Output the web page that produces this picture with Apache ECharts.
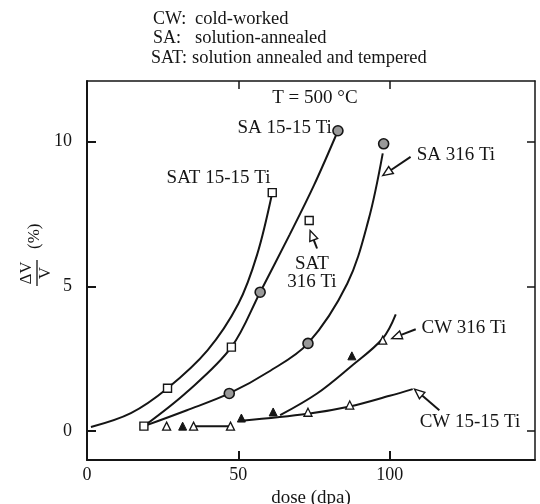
<!DOCTYPE html>
<html>
<head>
<meta charset="utf-8">
<script src="https://cdn.jsdelivr.net/npm/echarts@6/dist/echarts.min.js"></script>
<style>
html,body{margin:0;padding:0;background:#fff;}
#c{width:540px;height:504px;}
</style>
</head>
<body>
<div id="c"></div>
<script>
// ---- data (dose in dpa, swelling dV/V in %) ----
const sat1515Curve = [[1.3,0.14],[14.5,0.62],[26.6,1.48],[39.8,2.79],[50,4.4],[56.2,6.1],[61.2,8.24]];
const sa1515Curve  = [[18.8,0.17],[33,1.35],[47.7,2.9],[57.2,4.8],[67,6.8],[75,8.5],[82.9,10.38]];
const sa316Curve   = [[18.8,0.17],[33,0.72],[47,1.3],[60,2.05],[73,3.03],[86,5.1],[93,7.3],[97.7,9.6]];
const cw316Curve   = [[63.8,0.55],[76,1.3],[86.8,2.2],[97.7,3.2],[102,4.03]];
const cw1515CurveA = [[35.2,0.17],[47.4,0.17]];
const cw1515CurveB = [[51,0.36],[73,0.6],[86.8,0.85],[100,1.22],[107.6,1.45]];

const squarePts    = [[18.8,0.17],[26.6,1.48],[47.7,2.9],[61.2,8.24],[73.4,7.28]];
const circlePts    = [[47,1.3],[57.2,4.8],[73,3.03],[82.9,10.38],[98,9.93]];
const openTriPts   = [[26.3,0.17],[35.2,0.17],[47.4,0.17],[73,0.65],[86.8,0.9],[97.7,3.14]];
const filledTriPts = [[31.6,0.17],[51,0.45],[61.5,0.66],[87.5,2.6]];

const xTicks = [0,50,100];
const yTicks = [0,5,10];

// annotations (data coordinates)
const labelTexts  = ['T = 500 °C','SA 15-15 Ti','SAT 15-15 Ti','SA 316 Ti','SAT','316 Ti','CW 316 Ti','CW 15-15 Ti'];
const labelAt     = [[61.2,11.52],[80.9,10.48],[26.3,8.76],[108.9,9.55],[74.3,5.79],[74.3,5.14],[110.5,3.55],[109.9,0.31]];
const labelAlign  = ['left','right','left','left','center','center','left','left'];
const arrowFrom   = [[106.9,9.48],[76,6.31],[108.6,3.52],[116.4,0.72]];
const arrowTo     = [[97.7,8.83],[73.7,6.93],[100.7,3.2],[108.2,1.45]];

const legendLines = [['CW:','cold-worked'],['SA:','solution-annealed'],['SAT:','solution annealed and tempered']];

// ---- chart ----
const INK = '#151515';
const FONT = '"Liberation Serif","DejaVu Serif",serif';
const chart = echarts.init(document.getElementById('c'), null, {renderer:'canvas'});

function curve(data){
  return {type:'line', data:data, smooth:0.35, symbol:'none',
    lineStyle:{color:INK,width:2}, silent:true, z:2};
}
function marks(data, symbol, size, fill, bw){
  return {type:'scatter', data:data, symbol:symbol, symbolSize:size,
    itemStyle:{color:fill,borderColor:INK,borderWidth:bw,opacity:1}, silent:true, z:5};
}

const axisCommon = {
  type:'value', min:0, max:148,
  axisLine:{show:true,onZero:false,lineStyle:{color:INK,width:2}},
  splitLine:{show:false}
};

chart.setOption({
  animation:false,
  backgroundColor:'#fff',
  grid:{left:87,right:5,top:81,bottom:44,containLabel:false,outerBoundsMode:'none'},
  xAxis:[
    Object.assign({}, axisCommon, {position:'bottom',
      axisTick:{show:true,inside:true,length:9,customValues:[50,100],lineStyle:{color:INK,width:2}},
      axisLabel:{customValues:xTicks,color:INK,fontFamily:FONT,fontSize:18,margin:6},
      name:'dose (dpa)',nameLocation:'middle',nameGap:24,
      nameTextStyle:{color:INK,fontFamily:FONT,fontSize:19}}),
    Object.assign({}, axisCommon, {position:'top',
      axisLine:{show:true,onZero:false,lineStyle:{color:INK,width:1.5}},
      axisTick:{show:true,inside:true,length:8,customValues:[50,100],lineStyle:{color:INK,width:1.5}},
      axisLabel:{show:false}})
  ],
  yAxis:[
    {type:'value',min:-1,max:12.1,position:'left',
      axisLine:{show:true,onZero:false,lineStyle:{color:INK,width:2}},
      axisTick:{show:true,inside:true,length:9,customValues:yTicks,lineStyle:{color:INK,width:2}},
      axisLabel:{customValues:yTicks,color:INK,fontFamily:FONT,fontSize:18,margin:15},
      splitLine:{show:false}},
    {type:'value',min:-1,max:12.1,position:'right',
      axisLine:{show:true,onZero:false,lineStyle:{color:INK,width:1.5}},
      axisTick:{show:true,inside:true,length:8,customValues:yTicks,lineStyle:{color:INK,width:1.5}},
      axisLabel:{show:false},splitLine:{show:false}}
  ],
  series:[
    curve(sat1515Curve), curve(sa1515Curve), curve(sa316Curve), curve(cw316Curve),
    curve(cw1515CurveA), curve(cw1515CurveB),
    marks(squarePts,'rect',8,'#fff',1.4),
    marks(circlePts,'circle',10,'#999',1.6),
    marks(openTriPts,'triangle',8,'#fff',1.3),
    marks(filledTriPts,'triangle',8,INK,1)
  ]
});

const toPx = p => chart.convertToPixel({xAxisIndex:0,yAxisIndex:0}, p);
const g = [];
// legend / title lines
legendLines.forEach((ln,i)=>{
  const y = 19 + i*19.5;
  g.push({type:'text',x:(i===2?151:153),y:y,style:{text:ln[0],font:'18px '+FONT,fill:INK,verticalAlign:'middle'}});
  g.push({type:'text',x:(i===2?192:195),y:y,style:{text:ln[1],font:'18.5px '+FONT,fill:INK,verticalAlign:'middle'}});
});
// annotation labels
labelTexts.forEach((t,i)=>{
  const p = toPx(labelAt[i]);
  g.push({type:'text',x:p[0],y:p[1],z:10,style:{text:t,font:'19px '+FONT,fill:INK,align:labelAlign[i],verticalAlign:'middle'}});
});
// arrows with open heads
arrowFrom.forEach((f,i)=>{
  const p0 = toPx(f), p1 = toPx(arrowTo[i]);
  const dx = p1[0]-p0[0], dy = p1[1]-p0[1], L = Math.hypot(dx,dy);
  const ux = dx/L, uy = dy/L, H = 10, W = 4.2;
  const bx = p1[0]-ux*H, by = p1[1]-uy*H;
  g.push({type:'line',z:10,shape:{x1:p0[0],y1:p0[1],x2:bx,y2:by},style:{stroke:INK,lineWidth:2}});
  g.push({type:'polygon',z:10,shape:{points:[[p1[0],p1[1]],[bx-uy*W,by+ux*W],[bx+uy*W,by-ux*W]]},
    style:{fill:'#fff',stroke:INK,lineWidth:1.4}});
});
// y-axis title: dV/V (%) rotated
g.push({type:'group',x:37,y:273,rotation:Math.PI/2,children:[
  {type:'text',x:0,y:-10,style:{text:'ΔV',font:'17px '+FONT,fill:INK,align:'center',verticalAlign:'middle'}},
  {type:'line',shape:{x1:-13,y1:0,x2:13,y2:0},style:{stroke:INK,lineWidth:1.3}},
  {type:'text',x:0,y:9,style:{text:'V',font:'17px '+FONT,fill:INK,align:'center',verticalAlign:'middle'}},
  {type:'text',x:24,y:-2,style:{text:'(%)',font:'17px '+FONT,fill:INK,align:'left',verticalAlign:'middle'}}
]});
chart.setOption({graphic:g});
</script>
</body>
</html>
